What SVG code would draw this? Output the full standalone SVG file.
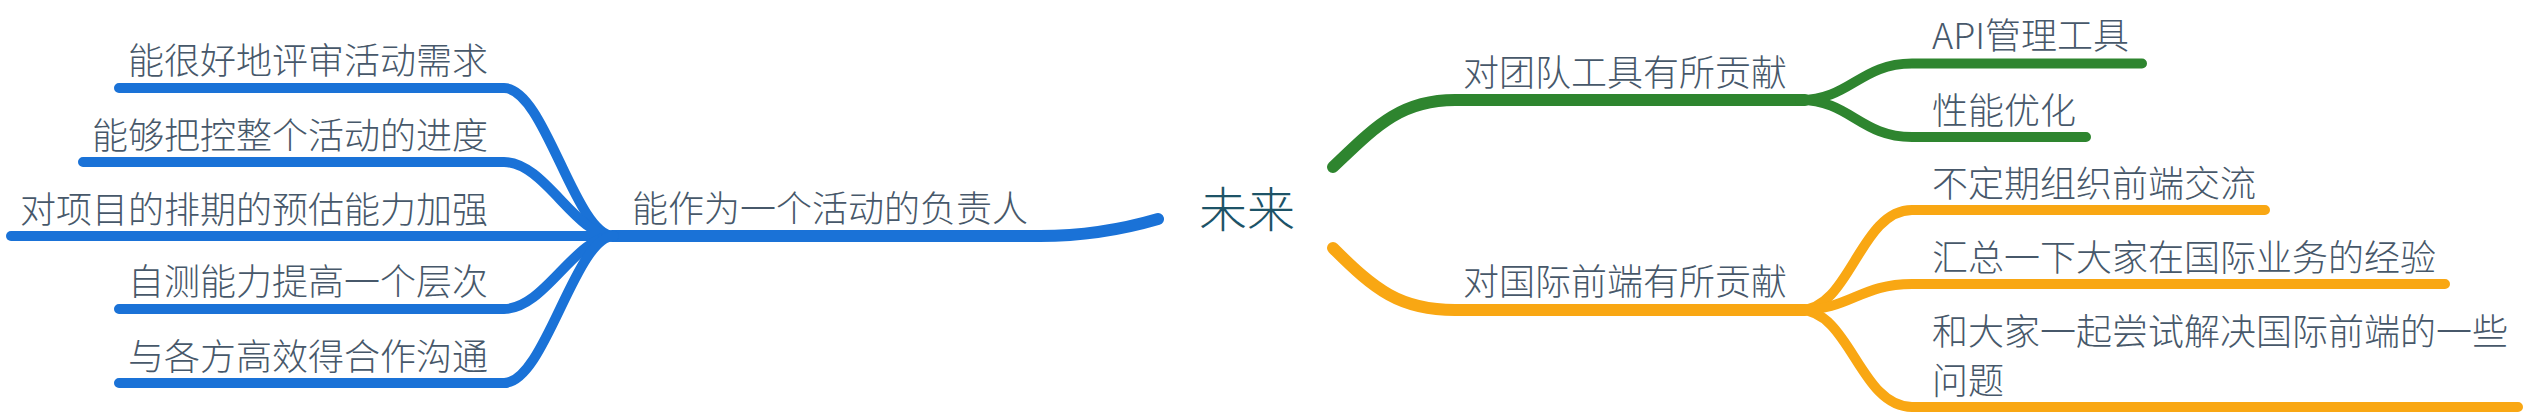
<svg xmlns="http://www.w3.org/2000/svg" width="2528" height="418" viewBox="0 0 2528 418">
<style>
text{font-family:"Noto Sans CJK SC","Noto Sans",sans-serif;font-size:36px;font-weight:300;fill:#47586a}
.root{font-size:48px;fill:#1d5367}
.l{fill:none;stroke-linecap:round;stroke-linejoin:round}
.m{stroke-width:12}
.c{stroke-width:10}
.b{stroke:#1a72d7}
.g{stroke:#2e852f}
.o{stroke:#f9a713}
.e{text-anchor:end}
</style>
<rect width="2528" height="418" fill="#ffffff"/>
<g id="connectors">
  <path class="l m b" d="M1158 219 Q1100 236 1040 236 L612 236" stroke-linecap="butt"/>
  <path class="l c b" d="M119 88 L504 88 C545 88 575 236 614 236"/>
  <path class="l c b" d="M83 162 L504 162 C545 162 575 236 614 236"/>
  <path class="l c b" d="M11 236 L614 236"/>
  <path class="l c b" d="M119 309 L504 309 C545 309 575 236 614 236"/>
  <path class="l c b" d="M119 383 L504 383 C545 383 575 236 614 236"/>
  <path class="l m g" d="M1333 167 C1375 127 1400 100 1455 100 L1805 100" stroke-linecap="butt"/>
  <path class="l c g" d="M1800 100 C1850 100 1860 63.5 1912 63.5 L2142 63.5"/>
  <path class="l c g" d="M1800 100 C1850 100 1860 137 1912 137 L2086 137"/>
  <path class="l m o" d="M1333 248 C1375 290 1400 310 1455 310 L1805 310" stroke-linecap="butt"/>
  <path class="l c o" d="M1800 310 C1850 310 1860 210 1912 210 L2265 210"/>
  <path class="l c o" d="M1800 310 C1850 310 1860 284 1912 284 L2445 284"/>
  <path class="l c o" d="M1800 310 C1850 310 1860 407 1912 407 L2518 407"/>
</g>
<g id="root"><text class="root" x="1247" y="227" text-anchor="middle">未来</text></g>
<g id="n-left"><text x="632" y="222">能作为一个活动的负责人</text></g>
<g id="n-left-1"><text class="e" x="488" y="74">能很好地评审活动需求</text></g>
<g id="n-left-2"><text class="e" x="488" y="149">能够把控整个活动的进度</text></g>
<g id="n-left-3"><text class="e" x="488" y="223">对项目的排期的预估能力加强</text></g>
<g id="n-left-4"><text class="e" x="488" y="295">自测能力提高一个层次</text></g>
<g id="n-left-5"><text class="e" x="488" y="370">与各方高效得合作沟通</text></g>
<g id="n-tools"><text x="1463" y="86">对团队工具有所贡献</text></g>
<g id="n-tools-1"><text x="1932" y="49">API管理工具</text></g>
<g id="n-tools-2"><text x="1932" y="124">性能优化</text></g>
<g id="n-intl"><text x="1463" y="295">对国际前端有所贡献</text></g>
<g id="n-intl-1"><text x="1932" y="197">不定期组织前端交流</text></g>
<g id="n-intl-2"><text x="1932" y="271">汇总一下大家在国际业务的经验</text></g>
<g id="n-intl-3"><text x="1932" y="345">和大家一起尝试解决国际前端的一些</text><text x="1932" y="394">问题</text></g>
</svg>
